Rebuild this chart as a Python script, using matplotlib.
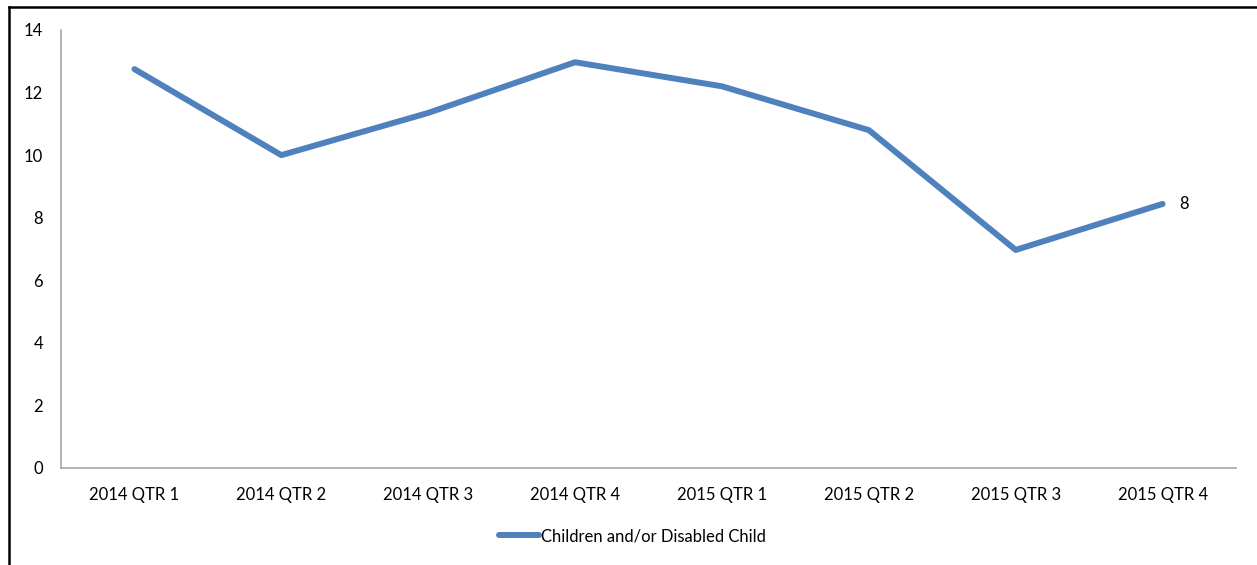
import matplotlib.pyplot as plt
from matplotlib.lines import Line2D

# Data
categories = ['2014 QTR 1', '2014 QTR 2', '2014 QTR 3', '2014 QTR 4',
              '2015 QTR 1', '2015 QTR 2', '2015 QTR 3', '2015 QTR 4']
values = [12.75, 10.0, 11.35, 12.97, 12.2, 10.8, 6.97, 8.44]
series_name = 'Children and/or Disabled Child'
y_ticks = [0, 2, 4, 6, 8, 10, 12, 14]

plt.rcParams['font.family'] = ['Lato', 'DejaVu Sans']

fig = plt.figure(figsize=(12.57, 5.65), dpi=100)
ax = fig.add_axes([61 / 1257, 97 / 565, 1175 / 1257, 438 / 565])

x = list(range(len(categories)))
ax.plot(x, values, color='#4F81BD', linewidth=4.3, solid_capstyle='round',
        label=series_name)

# label on last point
ax.annotate(f"{values[-1]:.0f}", (x[-1], values[-1]), xytext=(12, 0),
            textcoords='offset points', va='center', ha='left', fontsize=12)

ax.set_xlim(-0.5, len(categories) - 0.5)
ax.set_ylim(0, 14)
ax.set_yticks(y_ticks)
ax.set_xticks(x)
ax.set_xticklabels(categories)
ax.tick_params(axis='both', length=0, labelsize=12, colors='black')
ax.tick_params(axis='y', pad=13)
ax.tick_params(axis='x', pad=14)

for side in ['top', 'right']:
    ax.spines[side].set_visible(False)
for side in ['left', 'bottom']:
    ax.spines[side].set_color('#A6A6A6')
    ax.spines[side].set_linewidth(1.2)

fig.legend(loc='center', bbox_to_anchor=(0.503, 1 - 536 / 565), frameon=False,
           fontsize=12, handlelength=2.4, handletextpad=0.1)

# outer border (left and top only visible)
fig.add_artist(Line2D([9 / 1257, 9 / 1257], [0, 1 - 7 / 565], color='black',
                      linewidth=1.8, transform=fig.transFigure))
fig.add_artist(Line2D([9 / 1257, 1], [1 - 7 / 565, 1 - 7 / 565], color='black',
                      linewidth=1.8, transform=fig.transFigure))

plt.savefig('out.png', dpi=100)
